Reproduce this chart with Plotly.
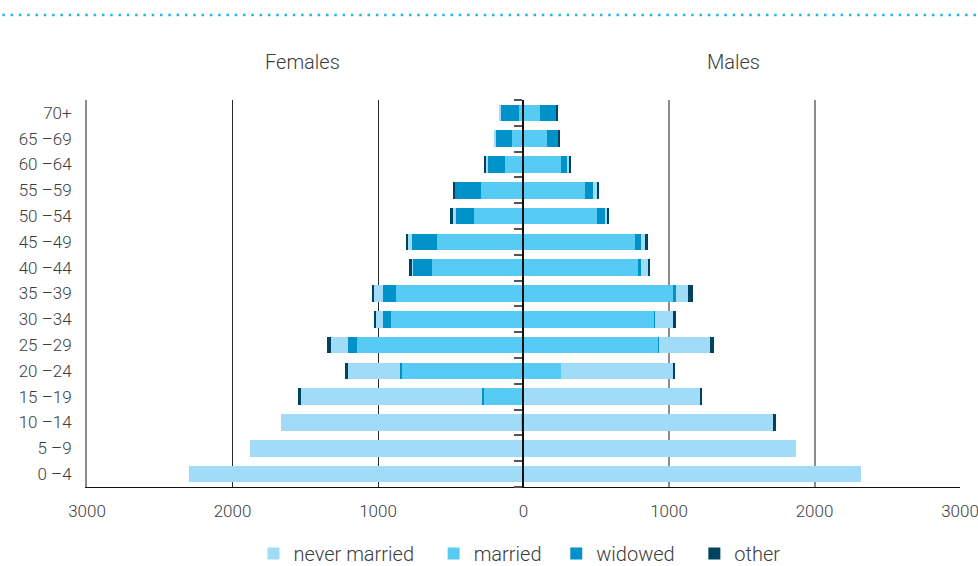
import plotly.graph_objects as go

categories = ["0 –4", "5 –9", "10 –14", "15 –19", "20 –24", "25 –29", "30 –34",
              "35 –39", "40 –44", "45 –49", "50 –54", "55 –59", "60 –64", "65 –69", "70+"]

female_married = [0, 0, 14, 278, 833, 1147, 913, 878, 630, 596, 338, 292, 125, 77, 30]
female_widowed = [0, 0, 0, 9, 18, 59, 52, 87, 128, 173, 125, 183, 121, 112, 125]
female_never = [2301, 1877, 1651, 1249, 354, 118, 52, 66, 14, 25, 27, 0, 16, 12, 12]
female_other = [0, 0, 0, 12, 23, 28, 12, 9, 12, 12, 12, 12, 12, 0, 0]

male_married = [0, 0, 0, 0, 261, 922, 899, 1025, 789, 766, 505, 422, 257, 163, 115]
male_widowed = [0, 0, 0, 0, 0, 7, 7, 21, 21, 44, 57, 57, 41, 71, 108]
male_never = [2321, 1874, 1718, 1213, 764, 353, 119, 85, 46, 25, 12, 23, 14, 0, 0]
male_other = [0, 0, 14, 12, 12, 25, 23, 34, 14, 23, 12, 12, 14, 7, 7]

x_ticks = [0, 1000, 2000, 3000]

colors = {
    "never married": "#A0DCF8",
    "married": "#58CBF5",
    "widowed": "#0092C8",
    "other": "#00435E",
}
ranks = {"never married": 1, "married": 2, "widowed": 3, "other": 4}
pads = {"never married": "\u00a0\u00a0\u00a0", "married": "\u00a0\u00a0",
        "widowed": "\u00a0\u00a0\u00a0", "other": ""}

FONT = "Roboto"
TXT = "#3c3c3c"

fig = go.Figure()

female = [("married", female_married), ("widowed", female_widowed),
          ("never married", female_never), ("other", female_other)]
male = [("married", male_married), ("widowed", male_widowed),
        ("never married", male_never), ("other", male_other)]

for name, vals in female:
    fig.add_trace(go.Bar(
        y=categories, x=vals, orientation="h", name=name + pads[name],
        marker=dict(color=colors[name], line=dict(width=0)),
        xaxis="x", yaxis="y", legendgroup=name, legendrank=ranks[name],
        showlegend=True,
    ))
for name, vals in male:
    fig.add_trace(go.Bar(
        y=categories, x=vals, orientation="h", name=name,
        marker=dict(color=colors[name], line=dict(width=0)),
        xaxis="x2", yaxis="y2", legendgroup=name, legendrank=ranks[name],
        showlegend=False,
    ))

tickfont = dict(size=17, family=FONT, color=TXT, weight=300)

fig.update_layout(
    width=978, height=566,
    margin=dict(l=87, r=18, t=100, b=79, autoexpand=False),
    paper_bgcolor="white", plot_bgcolor="white",
    barmode="stack", bargap=0.35,
    font=dict(family=FONT, color=TXT, size=16, weight=300),
    showlegend=True,
    legend=dict(orientation="h", x=0.4954, xanchor="center", y=-0.172, yanchor="middle",
                font=dict(size=20, family=FONT, color=TXT, weight=300),
                itemwidth=30, tracegroupgap=0),
    xaxis=dict(domain=[0, 0.5], range=[3000, 0], tickvals=x_ticks,
               ticktext=[str(v) for v in x_ticks],
               showgrid=True, gridcolor="#2a2a2a", gridwidth=1,
               zeroline=False, showline=True, linecolor="#111111", linewidth=1,
               ticks="", ticklabelstandoff=9, automargin=False, ticklabeloverflow="allow",
               tickfont=tickfont, anchor="y", fixedrange=True),
    xaxis2=dict(domain=[0.5, 1], range=[0, 3000], tickvals=x_ticks[1:],
                ticktext=[str(v) for v in x_ticks[1:]],
                showgrid=True, gridcolor="#8c8c8c", gridwidth=2,
                zeroline=False, showline=True, linecolor="#111111", linewidth=1,
                ticks="", ticklabelstandoff=9, automargin=False, ticklabeloverflow="allow",
                tickfont=tickfont, anchor="y2", fixedrange=True),
    yaxis=dict(anchor="x", side="left", showline=True, linecolor="#8c8c8c", linewidth=2,
               showgrid=False, zeroline=False, ticks="", ticklabelstandoff=10,
               categoryorder="array", categoryarray=categories, automargin=False,
               tickfont=tickfont, fixedrange=True),
    yaxis2=dict(anchor="x2", matches="y", side="left", showline=True, linecolor="#111111",
                linewidth=1.5, showgrid=False, zeroline=False, ticks="outside",
                tickson="boundaries", ticklen=8, tickwidth=2, tickcolor="#555555",
                showticklabels=False, categoryorder="array", categoryarray=categories,
                automargin=False, fixedrange=True),
)

fig.add_annotation(text="Females", x=0.2463, y=1.098, xref="paper", yref="paper",
                   xanchor="center", yanchor="middle",
                   showarrow=False, font=dict(size=20, family=FONT, color=TXT, weight=300))
fig.add_annotation(text="Males", x=0.74, y=1.098, xref="paper", yref="paper",
                   xanchor="center", yanchor="middle",
                   showarrow=False, font=dict(size=20, family=FONT, color=TXT, weight=300))

fig.add_shape(type="line", xref="paper", yref="paper", x0=-0.097, x1=1.0206,
              y0=1.2196, y1=1.2196,
              line=dict(color="#22B5E8", width=2.5, dash="2.5px,5.8px"))

fig.write_html("out.html", config={"displayModeBar": False},
               post_script="document.body.style.margin='0px';document.body.style.overflow='hidden';")
